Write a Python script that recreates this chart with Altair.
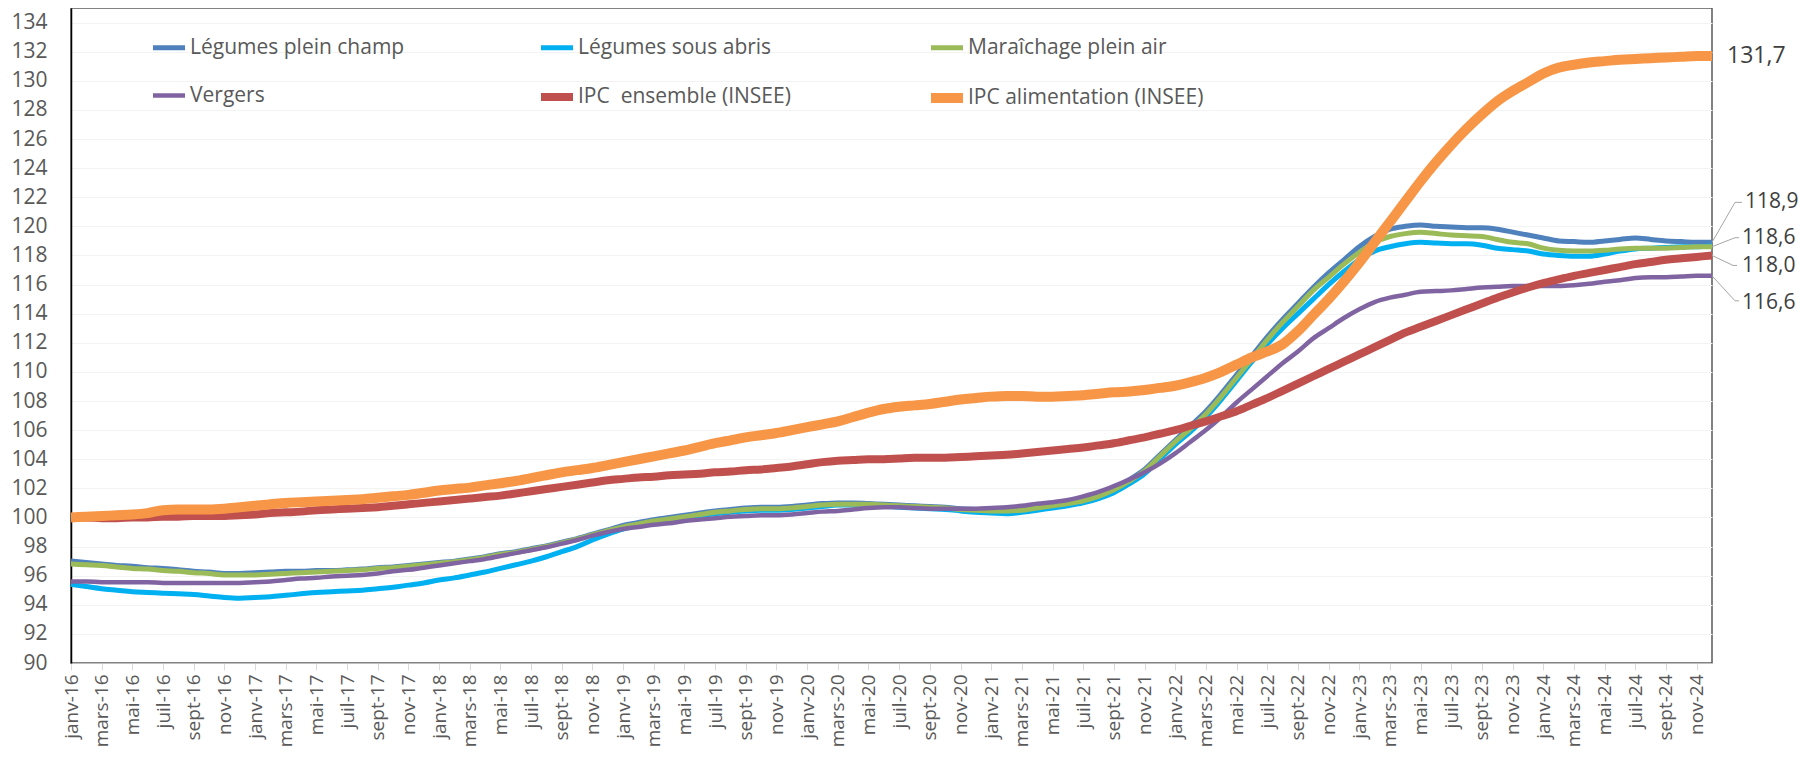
import altair as alt
import pandas as pd

MONTHS = ["janv", "févr", "mars", "avr", "mai", "juin", "juil", "août", "sept", "oct", "nov", "déc"]
YEARS = ["16", "17", "18", "19", "20", "21", "22", "23", "24"]
month_labels = [f"{m}-{y}" for y in YEARS for m in MONTHS]

names = ["Légumes plein champ", "Légumes sous abris", "Maraîchage plein air",
         "Vergers", "IPC\u00a0 ensemble (INSEE)", "IPC alimentation (INSEE)"]

legumes_plein_champ = [
    97.0, 96.9, 96.8, 96.7, 96.65, 96.55, 96.5, 96.4, 96.3, 96.25, 96.15, 96.15,
    96.2, 96.25, 96.3, 96.3, 96.35, 96.35, 96.4, 96.45, 96.55, 96.6, 96.7, 96.8,
    96.9, 97.0, 97.15, 97.3, 97.5, 97.65, 97.85, 98.05, 98.3, 98.55, 98.85, 99.15,
    99.45, 99.65, 99.85, 100.0, 100.15, 100.3, 100.45, 100.55, 100.65, 100.7, 100.7, 100.75,
    100.85, 100.95, 101.0, 101.0, 100.95, 100.9, 100.85, 100.8, 100.75, 100.7, 100.6, 100.55,
    100.5, 100.5, 100.6, 100.7, 100.85, 101.0, 101.2, 101.5, 102.0, 102.6, 103.3, 104.3,
    105.3, 106.3, 107.3, 108.5, 109.8, 111.1, 112.4, 113.6, 114.7, 115.8, 116.8, 117.7,
    118.6, 119.3, 119.8, 120.0, 120.1, 120.0, 119.95, 119.9, 119.9, 119.8, 119.6, 119.4,
    119.2, 119.0, 118.95, 118.9, 119.0, 119.1, 119.2, 119.1, 119.0, 118.95, 118.9, 118.9]

legumes_sous_abris = [
    95.4, 95.25, 95.1, 95.0, 94.9, 94.85, 94.8, 94.75, 94.7, 94.6, 94.5, 94.45,
    94.5, 94.55, 94.65, 94.75, 94.85, 94.9, 94.95, 95.0, 95.1, 95.2, 95.35, 95.5,
    95.7, 95.85, 96.05, 96.25, 96.5, 96.75, 97.0, 97.3, 97.65, 98.0, 98.45, 98.85,
    99.2, 99.45, 99.65, 99.8, 99.95, 100.1, 100.25, 100.35, 100.45, 100.5, 100.5, 100.55,
    100.65, 100.75, 100.85, 100.85, 100.85, 100.8, 100.7, 100.65, 100.6, 100.55, 100.45, 100.35,
    100.3, 100.25, 100.35, 100.5, 100.65, 100.8, 101.0, 101.3, 101.7, 102.3, 103.0, 104.0,
    105.0, 105.9, 106.9, 108.1, 109.4, 110.7, 111.9, 113.0, 114.0, 115.0, 116.0, 116.9,
    117.7, 118.3, 118.6, 118.8, 118.9, 118.85, 118.8, 118.8, 118.7, 118.5, 118.4, 118.3,
    118.1, 118.0, 117.95, 117.95, 118.1, 118.3, 118.45, 118.5, 118.55, 118.6, 118.6, 118.65]

maraichage_plein_air = [
    96.8, 96.75, 96.7, 96.6, 96.5, 96.45, 96.35, 96.3, 96.2, 96.15, 96.05, 96.05,
    96.05, 96.1, 96.15, 96.2, 96.25, 96.3, 96.35, 96.4, 96.5, 96.55, 96.65, 96.75,
    96.85, 96.95, 97.1, 97.25, 97.45, 97.6, 97.8, 98.0, 98.25, 98.5, 98.8, 99.1,
    99.35, 99.55, 99.75, 99.9, 100.05, 100.2, 100.35, 100.45, 100.55, 100.6, 100.6, 100.65,
    100.75, 100.85, 100.9, 100.9, 100.9, 100.85, 100.8, 100.75, 100.7, 100.65, 100.55, 100.5,
    100.45, 100.45, 100.5, 100.65, 100.8, 100.95, 101.15, 101.45, 101.9, 102.5, 103.2, 104.2,
    105.2, 106.1, 107.1, 108.3, 109.6, 110.9, 112.2, 113.4, 114.5, 115.6, 116.5, 117.4,
    118.2, 118.9, 119.3, 119.5, 119.6, 119.5, 119.4, 119.35, 119.3, 119.1, 118.9, 118.8,
    118.5, 118.35, 118.3, 118.3, 118.35, 118.45, 118.5, 118.5, 118.5, 118.55, 118.6, 118.6]

vergers = [
    95.6, 95.6, 95.55, 95.55, 95.55, 95.55, 95.5, 95.5, 95.5, 95.5, 95.5, 95.5,
    95.55, 95.6, 95.7, 95.8, 95.85, 95.95, 96.0, 96.05, 96.15, 96.3, 96.4, 96.55,
    96.7, 96.85, 97.0, 97.15, 97.35, 97.55, 97.75, 97.95, 98.2, 98.45, 98.75, 99.0,
    99.2, 99.35, 99.5, 99.6, 99.75, 99.85, 99.95, 100.05, 100.1, 100.15, 100.15, 100.2,
    100.3, 100.4, 100.45, 100.55, 100.65, 100.7, 100.7, 100.65, 100.6, 100.6, 100.6, 100.6,
    100.65, 100.7, 100.8, 100.95, 101.05, 101.2, 101.45, 101.75, 102.15, 102.6, 103.1, 103.7,
    104.4, 105.2, 106.0, 106.9, 107.9, 108.8, 109.7, 110.6, 111.4, 112.3, 113.0, 113.7,
    114.3, 114.8, 115.1, 115.3, 115.5, 115.55, 115.6, 115.7, 115.8, 115.85, 115.9, 115.9,
    115.9, 115.9, 115.95, 116.05, 116.2, 116.3, 116.45, 116.5, 116.5, 116.55, 116.6, 116.6]

ipc_ensemble = [
    100.0, 100.0, 99.95, 99.95, 100.0, 100.0, 100.05, 100.05, 100.1, 100.1, 100.1, 100.15,
    100.2, 100.3, 100.35, 100.4, 100.5, 100.55, 100.6, 100.65, 100.7, 100.8, 100.9, 101.0,
    101.1, 101.2, 101.3, 101.4, 101.5, 101.65, 101.8, 101.95, 102.1, 102.25, 102.4, 102.55,
    102.65, 102.75, 102.8, 102.9, 102.95, 103.0, 103.1, 103.15, 103.25, 103.3, 103.4, 103.5,
    103.65, 103.8, 103.9, 103.95, 104.0, 104.0, 104.05, 104.1, 104.1, 104.1, 104.15, 104.2,
    104.25, 104.3, 104.4, 104.5, 104.6, 104.7, 104.8, 104.95, 105.1, 105.3, 105.5, 105.75,
    106.0, 106.3, 106.6, 106.95, 107.3, 107.75, 108.2, 108.7, 109.2, 109.7, 110.2, 110.7,
    111.2, 111.7, 112.2, 112.7, 113.1, 113.5, 113.9, 114.3, 114.7, 115.1, 115.45, 115.8,
    116.1, 116.35, 116.6, 116.8, 117.0, 117.2, 117.4, 117.55, 117.7, 117.8, 117.9, 118.0]

ipc_alimentation = [
    100.0, 100.05, 100.1, 100.15, 100.2, 100.3, 100.5, 100.55, 100.55, 100.55, 100.6, 100.7,
    100.8, 100.9, 101.0, 101.05, 101.1, 101.15, 101.2, 101.25, 101.35, 101.45, 101.55, 101.7,
    101.85, 101.95, 102.05, 102.2, 102.35, 102.5, 102.7, 102.9, 103.1, 103.25, 103.4, 103.6,
    103.8, 104.0, 104.2, 104.4, 104.6, 104.85, 105.1, 105.3, 105.5, 105.65, 105.8, 106.0,
    106.2, 106.4, 106.6, 106.9, 107.2, 107.45, 107.6, 107.7, 107.8, 107.95, 108.1, 108.2,
    108.3, 108.35, 108.35, 108.3, 108.3, 108.35, 108.4, 108.5, 108.6, 108.65, 108.75, 108.9,
    109.05, 109.3, 109.6, 110.0, 110.5, 111.0, 111.4, 111.9, 112.8, 113.9, 115.0, 116.2,
    117.5, 118.9, 120.3, 121.7, 123.1, 124.4, 125.6, 126.7, 127.7, 128.6, 129.3, 129.9,
    130.5, 130.9, 131.1, 131.25, 131.35, 131.45, 131.5, 131.55, 131.6, 131.65, 131.7, 131.7]

series_values = [legumes_plein_champ, legumes_sous_abris, maraichage_plein_air,
                 vergers, ipc_ensemble, ipc_alimentation]

colors = ["#4F81BD", "#00B0F0", "#9BBB59", "#8064A2", "#C0504D", "#F79646"]
widths = [5, 5, 5, 4.5, 8, 10]

# series whose last value is labelled at the right edge
labelled = ["Légumes plein champ", "Maraîchage plein air", "IPC\u00a0 ensemble (INSEE)",
            "Vergers", "IPC alimentation (INSEE)"]

rows = []
for name, vals in zip(names, series_values):
    assert len(vals) == len(month_labels), name
    for m, v in zip(month_labels, vals):
        rows.append({"month": m, "series": name, "value": v})
df = pd.DataFrame(rows)

end_rows = []
for name, vals in zip(names, series_values):
    if name in labelled:
        end_rows.append({"month": month_labels[-1], "series": name, "value": vals[-1],
                         "label": f"{vals[-1]:.1f}".replace(".", ",")})
df_end = pd.DataFrame(end_rows)

FONT = "Open Sans"
GREY = "#595959"

x_enc = alt.X("month:O", sort=month_labels, title=None,
              scale=alt.Scale(type="point", padding=0),
              axis=alt.Axis(values=month_labels[::2], labelAngle=-90, labelFontSize=19,
                            labelColor=GREY, labelFont=FONT, ticks=True, tickColor="#D9D9D9",
                            tickSize=7, tickWidth=1, labelPadding=4, domainColor="#BFBFBF",
                            grid=False, labelOverlap=False))
y_enc = alt.Y("value:Q", title=None,
              scale=alt.Scale(domain=[90, 135], nice=False, zero=False),
              axis=alt.Axis(values=list(range(90, 135, 2)), labelFontSize=21, labelColor=GREY,
                            labelFont=FONT, ticks=False, labelPadding=24, domainColor="#000000",
                            domainWidth=1.5, grid=True, gridColor="#F3F3F3",
                            labelOverlap=False, labelBound=False))

leg = alt.Legend(title=None, orient="none", legendX=77, legendY=21, columns=3,
                 direction="horizontal",
                 symbolType="stroke", symbolSize=1024, labelFontSize=21, labelFont=FONT,
                 labelColor=GREY, columnPadding=120, rowPadding=19, labelOffset=0,
                 labelLimit=400)

lines = alt.Chart(df).mark_line(strokeCap="butt", strokeJoin="round", interpolate="monotone").encode(
    x=x_enc,
    y=y_enc,
    color=alt.Color("series:N", sort=names, scale=alt.Scale(domain=names, range=colors), legend=leg),
    strokeWidth=alt.StrokeWidth("series:N", sort=names,
                                scale=alt.Scale(type="ordinal", domain=names, range=widths),
                                legend=leg),
)

# leader-line and label offsets (pixels): diagonal end dx, dy, horizontal end dx, text dx, text dy
label_style = {
    "Légumes plein champ": (23, -40, 30, 33, -40),
    "Maraîchage plein air": (23, -9, 27, 30, -9),
    "IPC\u00a0 ensemble (INSEE)": (21, 10, 25, 30, 11),
    "Vergers": (23, 25, 27, 30, 27),
    "IPC alimentation (INSEE)": None,
}

layers = [lines]
for name in labelled:
    sub = alt.Chart(df_end).transform_filter(alt.datum.series == name)
    style = label_style[name]
    if style is None:
        layers.append(sub.mark_text(align="left", baseline="middle", dx=15, fontSize=23,
                                    font=FONT, color="#404040").encode(
            x=x_enc, y=y_enc, text="label:N"))
        continue
    ddx, ddy, hdx, tdx, tdy = style
    layers.append(sub.mark_rule(color="#A6A6A6", strokeWidth=1, x2Offset=ddx, y2Offset=ddy).encode(
        x=x_enc, y=y_enc, x2="month:O", y2="value:Q"))
    layers.append(sub.mark_rule(color="#A6A6A6", strokeWidth=1, xOffset=ddx, x2Offset=hdx,
                                yOffset=ddy, y2Offset=ddy).encode(
        x=x_enc, y=y_enc, x2="month:O", y2="value:Q"))
    layers.append(sub.mark_text(align="left", baseline="middle", dx=tdx, dy=tdy, fontSize=21,
                                font=FONT, color="#404040").encode(
        x=x_enc, y=y_enc, text="label:N"))

chart = alt.layer(*layers).properties(
    width=1641, height=655,
    autosize=alt.AutoSizeParams(type="none"),
    padding={"left": 63, "top": 0, "right": 88, "bottom": 86},
    background="white",
).configure_view(stroke="#595959", strokeWidth=1.5).configure_axis(labelOverlap=False)

chart.save("out.html", embed_options={"renderer": "svg", "actions": False})
